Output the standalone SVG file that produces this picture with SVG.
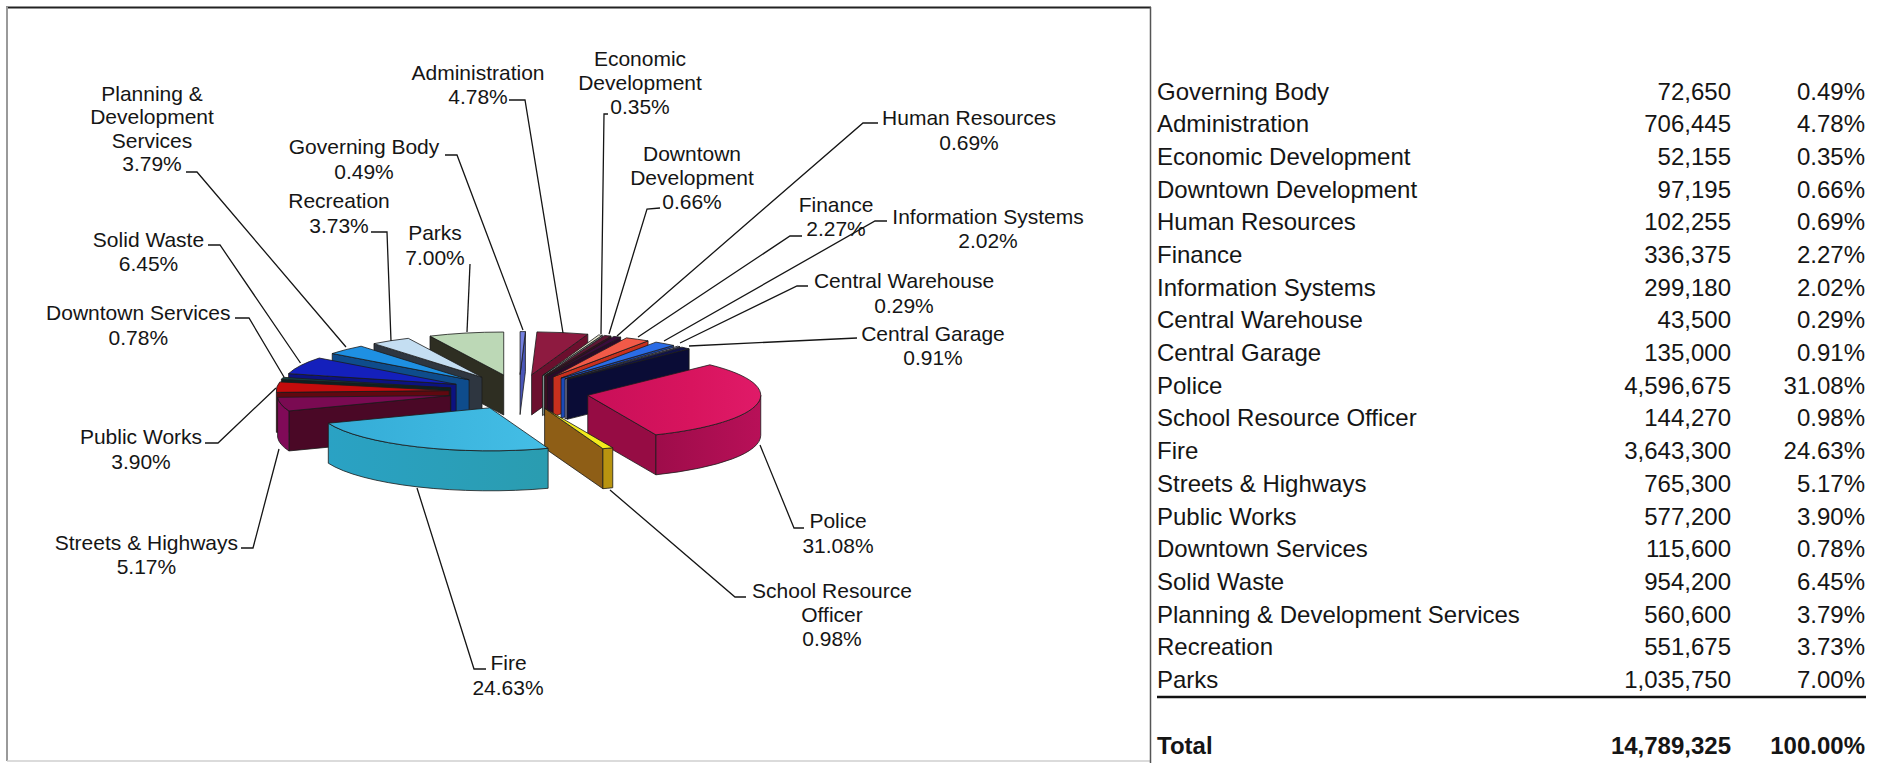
<svg xmlns="http://www.w3.org/2000/svg" width="1883" height="763" viewBox="0 0 1883 763">
<style>
.o{stroke:#1a1a1a;stroke-width:0.8;stroke-linejoin:round}
.lb{font-family:"Liberation Sans",Arial,sans-serif;font-size:21px;fill:#151515;text-anchor:middle}
.tb{font-family:"Liberation Sans",Arial,sans-serif;font-size:24px;fill:#151515}
.r{text-anchor:end}
.b{font-weight:bold}
.ld{fill:none;stroke:#151515;stroke-width:1.3}
</style>
<defs>
<linearGradient id="gPolice" x1="0" y1="0" x2="1" y2="0">
<stop offset="0" stop-color="#c80f58"/><stop offset="0.6" stop-color="#d8145e"/><stop offset="1" stop-color="#e01a68"/>
</linearGradient>
<linearGradient id="gPoliceSide" x1="0" y1="0" x2="1" y2="0">
<stop offset="0" stop-color="#9e0c4a"/><stop offset="1" stop-color="#b81058"/>
</linearGradient>
<linearGradient id="gFire" x1="0" y1="0" x2="1" y2="0">
<stop offset="0" stop-color="#34acd6"/><stop offset="1" stop-color="#44bee6"/>
</linearGradient>
<linearGradient id="gFireSide" x1="0" y1="0" x2="1" y2="0">
<stop offset="0" stop-color="#2aa2c4"/><stop offset="1" stop-color="#2a9cb0"/>
</linearGradient>
</defs>
<rect x="0" y="0" width="1883" height="763" fill="#ffffff"/>
<g id="frame">
<line x1="6" y1="7.5" x2="1151" y2="7.5" stroke="#222" stroke-width="2"/>
<line x1="7" y1="7" x2="7" y2="761" stroke="#9a9a9a" stroke-width="2"/>
<line x1="7" y1="761" x2="1151" y2="761" stroke="#cfcfcf" stroke-width="1.5"/>
<line x1="1150.5" y1="7" x2="1150.5" y2="763" stroke="#555" stroke-width="1.5"/>
</g>
<g id="pie">
<g id="slice-governing-body">
<path class="o" fill="#4a56b8" d="M520.08,374.60 L525.42,331.62 L525.42,371.62 L520.08,414.60 Z"/>
<path class="o" fill="#7480e0" d="M520.08,374.60 L520.08,331.60 A173 43 0 0 1 525.42,331.62 Z"/>
</g>
<g id="slice-parks">
<path class="o" fill="#2e2e22" d="M503.72,375.02 L430.03,336.12 L430.03,376.12 L503.72,415.02 Z"/>
<path class="o" fill="#bcd8b6" d="M503.72,375.02 L430.03,336.12 A173 43 0 0 1 503.72,332.02 Z"/>
</g>
<g id="slice-administration">
<path class="o" fill="#6c0f2e" d="M531.60,374.88 L587.82,334.21 L587.82,374.21 L531.60,414.88 Z"/>
<path class="o" fill="#8e1a40" d="M531.60,374.88 L536.94,331.90 A173 43 0 0 1 587.82,334.21 Z"/>
</g>
<g id="slice-recreation">
<path class="o" fill="#2e3640" d="M481.99,377.23 L373.97,343.64 L373.97,383.64 L481.99,417.23 Z"/>
<path class="o" fill="#c4def2" d="M481.99,377.23 L373.97,343.64 A173 43 0 0 1 408.30,338.33 Z"/>
</g>
<g id="slice-economic-development">
<path class="o" fill="#7f9290" d="M542.48,375.61 L602.31,335.26 L602.31,375.26 L542.48,415.61 Z"/>
<path class="o" fill="#e4e4cc" d="M542.48,375.61 L598.70,334.94 A173 43 0 0 1 602.31,335.26 Z"/>
</g>
<g id="slice-downtown-development">
<path class="o" fill="#3e0e22" d="M544.56,375.80 L611.04,336.10 L611.04,376.10 L544.56,415.80 Z"/>
<path class="o" fill="#5e1634" d="M544.56,375.80 L604.39,335.45 A173 43 0 0 1 611.04,336.10 Z"/>
</g>
<g id="slice-human-resources">
<path class="o" fill="#2a0a2a" d="M547.30,376.09 L620.66,337.15 L620.66,377.15 L547.30,416.09 Z"/>
<path class="o" fill="#3a0c3c" d="M547.30,376.09 L613.78,336.39 A173 43 0 0 1 620.66,337.15 Z"/>
</g>
<g id="slice-finance">
<path class="o" fill="#c8301e" d="M553.13,376.81 L648.06,340.86 L648.06,380.86 L553.13,416.81 Z"/>
<path class="o" fill="#f25a48" d="M553.13,376.81 L626.49,337.87 A173 43 0 0 1 648.06,340.86 Z"/>
</g>
<g id="slice-information-systems">
<path class="o" fill="#1a48b8" d="M561.05,378.09 L673.55,345.42 L673.55,385.42 L561.05,418.09 Z"/>
<path class="o" fill="#2a6ce6" d="M561.05,378.09 L655.98,342.14 A173 43 0 0 1 673.55,345.42 Z"/>
</g>
<g id="slice-central-warehouse">
<path class="o" fill="#7c80b0" d="M565.01,378.89 L679.92,346.74 L679.92,386.74 L565.01,418.89 Z"/>
<path class="o" fill="#b8bce8" d="M565.01,378.89 L677.51,346.22 A173 43 0 0 1 679.92,346.74 Z"/>
</g>
<g id="slice-central-garage">
<path class="o" fill="#0a0c36" d="M566.97,379.33 L689.10,348.87 L689.10,388.87 L566.97,419.33 Z"/>
<path class="o" fill="#10124a" d="M566.97,379.33 L681.88,347.18 A173 43 0 0 1 689.10,348.87 Z"/>
</g>
<g id="slice-planning">
<path class="o" fill="#0e4c8c" d="M469.10,379.80 L332.24,353.50 L332.24,393.50 L469.10,419.80 Z"/>
<path class="o" fill="#1e90e2" d="M469.10,379.80 L332.24,353.50 A173 43 0 0 1 361.08,346.21 Z"/>
</g>
<g id="slice-solid-waste">
<path class="o" fill="#0c1280" d="M456.14,384.34 L288.64,373.58 L288.64,413.58 L456.14,424.34 Z"/>
<path class="o" fill="#1420bc" d="M456.14,384.34 L288.64,373.58 A173 43 0 0 1 319.28,358.04 Z"/>
</g>
<g id="slice-downtown-services">
<path class="o" fill="#0c2222" d="M450.82,388.06 L281.40,379.36 L281.40,419.36 L450.82,428.06 Z"/>
<path class="o" fill="#124040" d="M450.82,388.06 L281.40,379.36 A173 43 0 0 1 283.32,377.30 Z"/>
</g>
<g id="slice-public-works">
<path class="o" fill="#600810" d="M449.23,390.59 L276.38,392.37 L276.38,432.37 L449.23,430.59 Z"/>
<path class="o" fill="#c40c0c" d="M449.23,390.59 L276.38,392.37 A173 43 0 0 1 279.81,381.89 Z"/>
</g>
<g id="slice-streets-highways">
<path class="o" fill="#4a0826" d="M450.45,395.53 L288.95,410.94 L288.95,450.94 L450.45,435.53 Z"/>
<path class="o" fill="#800a58" d="M288.95,410.94 A173 43 0 0 1 277.60,397.31 L277.60,437.31 A173 43 0 0 0 288.95,450.94 Z"/>
<path class="o" fill="#7a0a52" d="M450.45,395.53 L288.95,410.94 A173 43 0 0 1 277.60,397.31 Z"/>
</g>
<g id="slice-police">
<path class="o" fill="#960c44" d="M587.75,395.28 L655.91,434.80 L655.91,474.80 L587.75,435.28 Z"/>
<path class="o" fill="url(#gPoliceSide)" d="M760.75,395.28 A173 43 0 0 1 655.91,434.80 L655.91,474.80 A173 43 0 0 0 760.75,435.28 Z"/>
<path class="o" fill="url(#gPolice)" d="M587.75,395.28 L709.88,364.82 A173 43 0 0 1 655.91,434.80 Z"/>
</g>
<g id="slice-school-resource-officer">
<path class="o" fill="#8e5e16" d="M544.60,408.20 L602.90,448.69 L602.90,488.69 L544.60,448.20 Z"/>
<path class="o" fill="#b89410" d="M612.76,447.72 A173 43 0 0 1 602.90,448.69 L602.90,488.69 A173 43 0 0 0 612.76,487.72 Z"/>
<path class="o" fill="#f2ea1c" d="M544.60,408.20 L612.76,447.72 A173 43 0 0 1 602.90,448.69 Z"/>
</g>
<g id="slice-fire">
<path class="o" fill="url(#gFireSide)" d="M548.11,448.30 A173 43 0 0 1 328.31,423.22 L328.31,463.22 A173 43 0 0 0 548.11,488.30 Z"/>
<path class="o" fill="url(#gFire)" d="M489.81,407.81 L548.11,448.30 A173 43 0 0 1 328.31,423.22 Z"/>
</g>
</g>
<g id="connectors" class="ld">
<path d="M186,172 L197,172 L346,347"/>
<path d="M208,245 L220,245 L300.5,363"/>
<path d="M235,318 L249,318 L284,377"/>
<path d="M205,443 L218,443 L276,388"/>
<path d="M241,548 L253,548 L279,449"/>
<path d="M417,488 L474,669 L486,669"/>
<path d="M610,490 L735,597 L746,597"/>
<path d="M760,445 L794,528 L804,528"/>
<path d="M857,338 L689,346"/>
<path d="M808,286 L797,286 L680,343"/>
<path d="M887,221 L875,221 L664,341"/>
<path d="M802,236 L790,236 L638,337"/>
<path d="M878,123 L863,123 L617,336"/>
<path d="M660,208 L647,209 L609,334"/>
<path d="M608,114 L604,114 L601,334"/>
<path d="M509,100 L525,100 L563,333"/>
<path d="M445,155 L457,155 L523,330"/>
<path d="M371,232 L387,232 L391,341"/>
<path d="M470,264 L467,332"/>
</g>
<g id="labels">
<g id="label-planning"><text class="lb" x="152" y="100.5">Planning &amp;</text><text class="lb" x="152" y="124">Development</text><text class="lb" x="152" y="147.5">Services</text><text class="lb" x="152" y="171">3.79%</text></g>
<g id="label-administration"><text class="lb" x="478" y="79.5">Administration</text><text class="lb" x="478" y="104">4.78%</text></g>
<g id="label-economic"><text class="lb" x="640" y="65.8">Economic</text><text class="lb" x="640" y="89.6">Development</text><text class="lb" x="640" y="113.5">0.35%</text></g>
<g id="label-governing"><text class="lb" x="364" y="154.2">Governing Body</text><text class="lb" x="364" y="178.5">0.49%</text></g>
<g id="label-downtown-dev"><text class="lb" x="692" y="160.8">Downtown</text><text class="lb" x="692" y="184.5">Development</text><text class="lb" x="692" y="208.5">0.66%</text></g>
<g id="label-hr"><text class="lb" x="969" y="125.2">Human Resources</text><text class="lb" x="969" y="149.5">0.69%</text></g>
<g id="label-recreation"><text class="lb" x="339" y="208.2">Recreation</text><text class="lb" x="339" y="232.5">3.73%</text></g>
<g id="label-parks"><text class="lb" x="435" y="239.8">Parks</text><text class="lb" x="435" y="264.5">7.00%</text></g>
<g id="label-finance"><text class="lb" x="836" y="211.5">Finance</text><text class="lb" x="836" y="235.8">2.27%</text></g>
<g id="label-is"><text class="lb" x="988" y="223.5">Information Systems</text><text class="lb" x="988" y="248">2.02%</text></g>
<g id="label-solid-waste"><text class="lb" x="148.5" y="246.5">Solid Waste</text><text class="lb" x="148.5" y="270.8">6.45%</text></g>
<g id="label-cw"><text class="lb" x="904" y="288.2">Central Warehouse</text><text class="lb" x="904" y="312.5">0.29%</text></g>
<g id="label-ds"><text class="lb" x="138.3" y="320.2">Downtown Services</text><text class="lb" x="138.3" y="344.8">0.78%</text></g>
<g id="label-cg"><text class="lb" x="933" y="340.8">Central Garage</text><text class="lb" x="933" y="365.2">0.91%</text></g>
<g id="label-pw"><text class="lb" x="141" y="443.5">Public Works</text><text class="lb" x="141" y="468.5">3.90%</text></g>
<g id="label-police"><text class="lb" x="838" y="528.2">Police</text><text class="lb" x="838" y="553">31.08%</text></g>
<g id="label-sh"><text class="lb" x="146.4" y="549.8">Streets &amp; Highways</text><text class="lb" x="146.4" y="574.2">5.17%</text></g>
<g id="label-sro"><text class="lb" x="832" y="598.2">School Resource</text><text class="lb" x="832" y="621.8">Officer</text><text class="lb" x="832" y="645.8">0.98%</text></g>
<g id="label-fire"><text class="lb" x="508.5" y="669.8">Fire</text><text class="lb" x="508" y="694.8">24.63%</text></g>
</g>
<g id="table">
<g class="tb">
<text x="1157" y="99.5">Governing Body</text><text class="r" x="1731" y="99.5">72,650</text><text class="r" x="1865" y="99.5">0.49%</text>
<text x="1157" y="132.2">Administration</text><text class="r" x="1731" y="132.2">706,445</text><text class="r" x="1865" y="132.2">4.78%</text>
<text x="1157" y="164.9">Economic Development</text><text class="r" x="1731" y="164.9">52,155</text><text class="r" x="1865" y="164.9">0.35%</text>
<text x="1157" y="197.6">Downtown Development</text><text class="r" x="1731" y="197.6">97,195</text><text class="r" x="1865" y="197.6">0.66%</text>
<text x="1157" y="230.3">Human Resources</text><text class="r" x="1731" y="230.3">102,255</text><text class="r" x="1865" y="230.3">0.69%</text>
<text x="1157" y="263">Finance</text><text class="r" x="1731" y="263">336,375</text><text class="r" x="1865" y="263">2.27%</text>
<text x="1157" y="295.6">Information Systems</text><text class="r" x="1731" y="295.6">299,180</text><text class="r" x="1865" y="295.6">2.02%</text>
<text x="1157" y="328.3">Central Warehouse</text><text class="r" x="1731" y="328.3">43,500</text><text class="r" x="1865" y="328.3">0.29%</text>
<text x="1157" y="361">Central Garage</text><text class="r" x="1731" y="361">135,000</text><text class="r" x="1865" y="361">0.91%</text>
<text x="1157" y="393.7">Police</text><text class="r" x="1731" y="393.7">4,596,675</text><text class="r" x="1865" y="393.7">31.08%</text>
<text x="1157" y="426.4">School Resource Officer</text><text class="r" x="1731" y="426.4">144,270</text><text class="r" x="1865" y="426.4">0.98%</text>
<text x="1157" y="459.1">Fire</text><text class="r" x="1731" y="459.1">3,643,300</text><text class="r" x="1865" y="459.1">24.63%</text>
<text x="1157" y="491.8">Streets &amp; Highways</text><text class="r" x="1731" y="491.8">765,300</text><text class="r" x="1865" y="491.8">5.17%</text>
<text x="1157" y="524.5">Public Works</text><text class="r" x="1731" y="524.5">577,200</text><text class="r" x="1865" y="524.5">3.90%</text>
<text x="1157" y="557.2">Downtown Services</text><text class="r" x="1731" y="557.2">115,600</text><text class="r" x="1865" y="557.2">0.78%</text>
<text x="1157" y="589.9">Solid Waste</text><text class="r" x="1731" y="589.9">954,200</text><text class="r" x="1865" y="589.9">6.45%</text>
<text x="1157" y="622.5">Planning &amp; Development Services</text><text class="r" x="1731" y="622.5">560,600</text><text class="r" x="1865" y="622.5">3.79%</text>
<text x="1157" y="655.2">Recreation</text><text class="r" x="1731" y="655.2">551,675</text><text class="r" x="1865" y="655.2">3.73%</text>
<text x="1157" y="687.9">Parks</text><text class="r" x="1731" y="687.9">1,035,750</text><text class="r" x="1865" y="687.9">7.00%</text>
</g>
<line x1="1157" y1="697" x2="1866" y2="697" stroke="#111" stroke-width="2.5"/>
<g class="tb b">
<text x="1157" y="753.5">Total</text><text class="r" x="1731" y="753.5">14,789,325</text><text class="r" x="1865" y="753.5">100.00%</text>
</g>
</g>
</svg>
